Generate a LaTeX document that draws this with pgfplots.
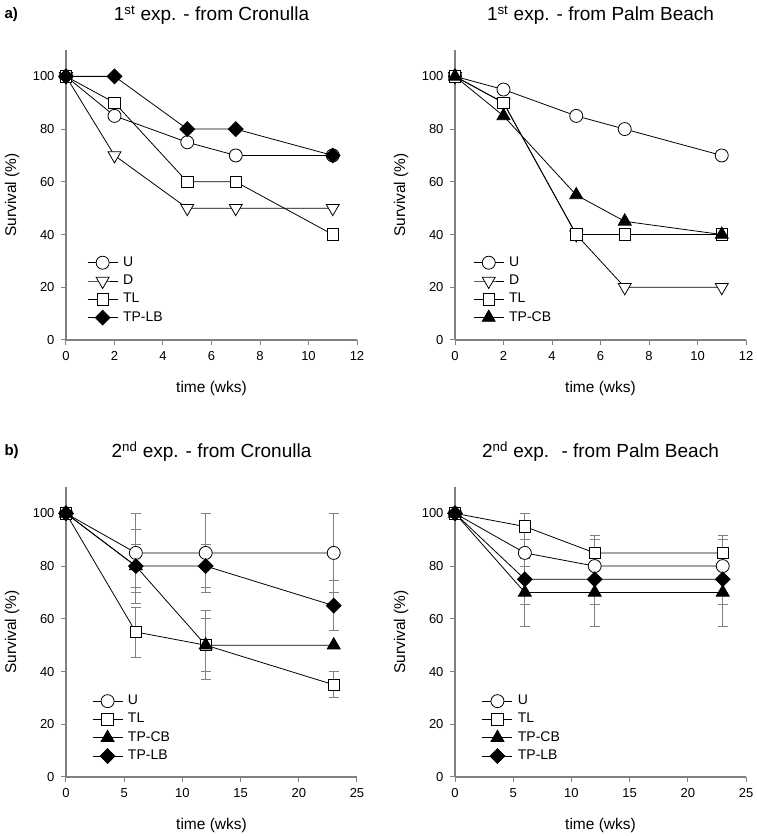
\documentclass[border=0pt]{standalone}
\usepackage{fontspec}
\setmainfont{Liberation Sans}
\usepackage{pgfplots}
\pgfplotsset{compat=1.18}
\definecolor{axgray}{RGB}{128,128,128}
\pgfplotsset{
  legend image code/.code={\draw[mark repeat=2,mark phase=2,#1] plot coordinates {(0pt,0pt) (15pt,0pt) (30pt,0pt)};},
  every axis title shift=0pt,
  panel/.style={
    scale only axis, width=291pt, height=290pt,
    axis lines=left, axis line style={axgray, line width=1.2pt, -},
    ymin=0, ymax=110, ytick={0,20,...,100},
    tick style={axgray, line width=1pt}, tick align=outside, major tick length=5pt,
    /pgf/number format/assume math mode=true,
    tick label style={font=\fontsize{13}{15}\selectfont},
    yticklabel style={xshift=-3pt},
    xticklabel style={yshift=-3pt},
    xlabel={time (wks)}, ylabel={Survival (\%)},
    label style={font=\fontsize{15.5}{18}\selectfont},
    xlabel style={at={(axis description cs:0.5,0)}, anchor=center, yshift=-48pt},
    ylabel style={at={(axis description cs:0,0.5)}, anchor=center, rotate=0, yshift=54pt},
    title style={at={(axis description cs:0.5,1)}, anchor=center, yshift=35pt, font=\fontsize{19}{22}\selectfont},
    legend cell align=left,
    legend style={draw=none, fill=none, font=\fontsize{14}{16}\selectfont, anchor=north west,
      row sep=3.3pt, nodes={inner sep=1pt, text height=10pt, text depth=3pt},
      /tikz/every odd column/.append style={column sep=4pt}},
    clip=false,
  },
  sU/.style={black, line width=0.8pt, mark=*, mark size=6.5pt, mark options={fill=white, draw=black, line width=0.8pt}},
  sD/.style={black, line width=0.8pt, mark=triangle*, mark size=7.5pt, mark options={rotate=180, fill=white, draw=black, line width=0.8pt}},
  sTL/.style={black, line width=0.8pt, mark=square*, mark size=5.7pt, mark options={fill=white, draw=black, line width=0.8pt}},
  sCB/.style={black, line width=0.8pt, mark=triangle*, mark size=7.5pt, mark options={fill=black, draw=black, line width=0.8pt}},
  sLB/.style={black, line width=0.8pt, mark=square*, mark size=5.2pt, mark options={rotate=45, fill=black, draw=black, line width=0.8pt}},
  eb/.style={error bars/.cd, y dir=both, y explicit,
    error bar style={axgray, line width=0.9pt},
    error mark options={axgray, mark size=5pt, line width=0.9pt, rotate=90}},
}
\begin{document}
\begin{tikzpicture}
\useasboundingbox (0pt,0pt) rectangle (756pt,836pt);
\node[anchor=west, font=\bfseries\fontsize{15}{17}\selectfont] at (1pt,821pt) {a)};
\node[anchor=west, font=\bfseries\fontsize{15}{17}\selectfont] at (1pt,384.5pt) {b)};

% ---------- Panel a) left
\begin{axis}[panel, at={(66pt,496pt)}, anchor=south west,
  xmin=0, xmax=12, xtick={0,2,...,12},
  title={1\textsuperscript{st} exp. - from Cronulla},
  legend style={at={(axis description cs:0.062,0.30)}}]
\addplot[sU] coordinates {(0,100) (2,85) (5,75) (7,70) (11,70)};
\addlegendentry{U}
\addplot[sD] coordinates {(0,100) (2,70) (5,50) (7,50) (11,50)};
\addlegendentry{D}
\addplot[sTL] coordinates {(0,100) (2,90) (5,60) (7,60) (11,40)};
\addlegendentry{TL}
\addplot[sLB] coordinates {(0,100) (2,100) (5,80) (7,80) (11,70)};
\addlegendentry{TP-LB}
\end{axis}

% ---------- Panel a) right
\begin{axis}[panel, at={(455pt,496pt)}, anchor=south west,
  xmin=0, xmax=12, xtick={0,2,...,12},
  title={1\textsuperscript{st} exp. - from Palm Beach},
  legend style={at={(axis description cs:0.052,0.30)}}]
\addplot[sU] coordinates {(0,100) (2,95) (5,85) (7,80) (11,70)};
\addlegendentry{U}
\addplot[sD] coordinates {(0,100) (2,90) (5,40) (7,20) (11,20)};
\addlegendentry{D}
\addplot[sTL] coordinates {(0,100) (2,90) (5,40) (7,40) (11,40)};
\addlegendentry{TL}
\addplot[sCB] coordinates {(0,100) (2,85) (5,55) (7,45) (11,40)};
\addlegendentry{TP-CB}
\end{axis}

% ---------- Panel b) left
\begin{axis}[panel, at={(66pt,59pt)}, anchor=south west,
  xmin=0, xmax=25, xtick={0,5,...,25},
  title={2\textsuperscript{nd} exp. - from Cronulla},
  legend style={at={(axis description cs:0.079,0.295)}}]
\addplot[sU, eb] table[y error=e] {
x y e
0 100 0
6 85 15
12 85 15
23 85 15
};
\addlegendentry{U}
\addplot[sTL, eb] table[y error=e] {
x y e
0 100 0
6 55 9.5
12 50 10
23 35 5
};
\addlegendentry{TL}
\addplot[sCB, eb] table[y error=e] {
x y e
0 100 0
6 80 8.2
12 50 13
23 50 0
};
\addlegendentry{TP-CB}
\addplot[sLB, eb] table[y error=e] {
x y e
0 100 0
6 80 14
12 80 8.2
23 65 9.6
};
\addlegendentry{TP-LB}
\end{axis}

% ---------- Panel b) right
\begin{axis}[panel, at={(455pt,59pt)}, anchor=south west,
  xmin=0, xmax=25, xtick={0,5,...,25},
  title={2\textsuperscript{nd} exp.~ - from Palm Beach},
  legend style={at={(axis description cs:0.082,0.295)}}]
\addplot[sU, eb] table[y error=e] {
x y e
0 100 0
6 85 5
12 80 10
23 80 10
};
\addlegendentry{U}
\addplot[sTL, eb] table[y error=e] {
x y e
0 100 0
6 95 5
12 85 6.5
23 85 6.5
};
\addlegendentry{TL}
\addplot[sCB, eb] table[y error=e] {
x y e
0 100 0
6 70 13
12 70 13
23 70 13
};
\addlegendentry{TP-CB}
\addplot[sLB, eb] table[y error=e] {
x y e
0 100 0
6 75 9.5
12 75 9.5
23 75 9.5
};
\addlegendentry{TP-LB}
\end{axis}
\end{tikzpicture}
\end{document}
